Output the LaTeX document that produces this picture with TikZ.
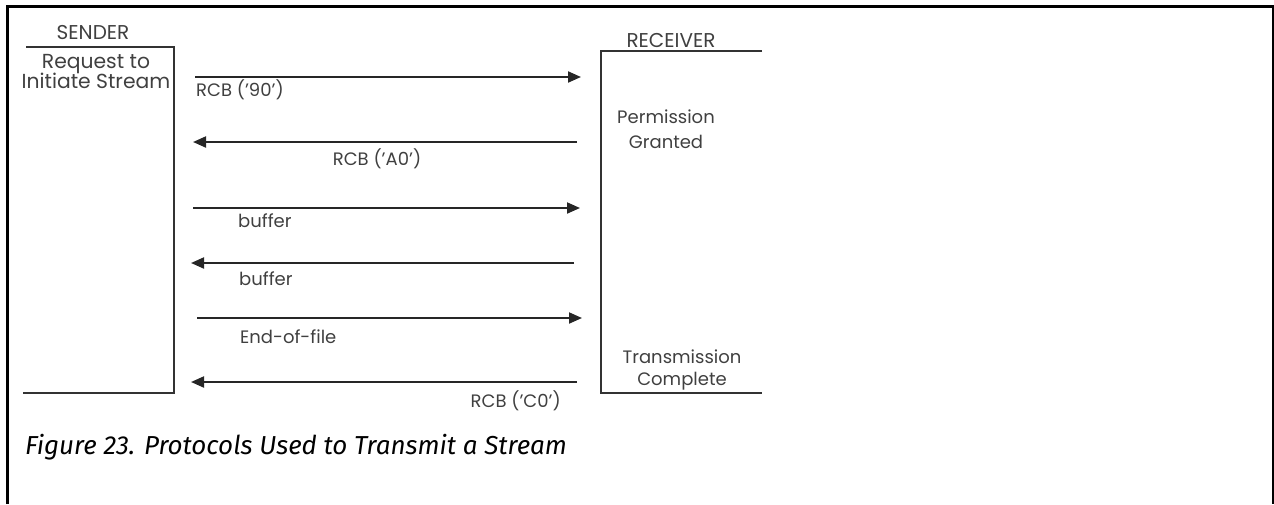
\documentclass[tikz,border=0pt]{standalone}
\usepackage{fontspec}
\setmainfont{Poppins}
\newfontfamily\capfont{Fira Sans}
\usetikzlibrary{arrows.meta}
\tikzset{
  lbl/.style={font=\fontsize{18}{20}\selectfont, inner sep=0pt, text=black!75, anchor=base},
  head/.style={lbl, font=\fontsize{20}{22}\selectfont},
  big/.style={lbl, font=\fontsize{20.3}{22}\selectfont},
  rule/.style={line width=2.2pt, black!80},
  msg/.style={line width=2pt, black!85, -{Triangle[length=13pt,width=11pt]}},
  frame/.style={line width=3pt, black}
}
\begin{document}
\begin{tikzpicture}[x=1pt,y=-1pt]
\useasboundingbox (0,0) rectangle (1274,504);
% frame
\draw[frame] (7,504) -- (7,6) -- (1273,6) -- (1273,504);
% sender
\node[head] (sender) at (93,39) {SENDER};
\draw[rule] (26,47) -- (174,47) -- (174,393) -- (23,393);
\node[big] (req1) at (96,68) {Request to};
\node[big] (req2) at (96,88) {Initiate Stream};
% receiver
\node[head] (receiver) at (671,47) {RECEIVER};
\draw[rule] (762,51) -- (601,51) -- (601,393) -- (762,393);
\node[lbl] (perm1) at (666,123) {Permission};
\node[lbl] (perm2) at (666,148) {Granted};
\node[lbl] (trans1) at (682,363) {Transmission};
\node[lbl] (trans2) at (682,385) {Complete};
% arrow ends
\coordinate (l1) at (195,77);  \coordinate (r1) at (581,77);
\coordinate (l2) at (193,142); \coordinate (r2) at (577,142);
\coordinate (l3) at (193,208); \coordinate (r3) at (580,208);
\coordinate (l4) at (191,263); \coordinate (r4) at (574,263);
\coordinate (l5) at (197,318); \coordinate (r5) at (582,318);
\coordinate (l6) at (191,382); \coordinate (r6) at (577,382);
\draw[msg] (l1) -- (r1);
\draw[msg] (r2) -- (l2);
\draw[msg] (l3) -- (r3);
\draw[msg] (r4) -- (l4);
\draw[msg] (l5) -- (r5);
\draw[msg] (r6) -- (l6);
\node[lbl, anchor=base west] (m1) at (196,96) {RCB ('90')};
\node[lbl] (m2) at (377,165) {RCB ('A0')};
\node[lbl, anchor=base west] (m3) at (238,227) {buffer};
\node[lbl, anchor=base west] (m4) at (239,285) {buffer};
\node[lbl, anchor=base west] (m5) at (240,343) {End-of-file};
\node[lbl, anchor=base east] (m6) at (561,407) {RCB ('C0')};
% caption
\node[anchor=base west, inner sep=0pt, font=\capfont\itshape\fontsize{26}{28}\selectfont] (cap) at (25,454) {Figure 23. Protocols Used to Transmit a Stream};
\end{tikzpicture}
\end{document}
